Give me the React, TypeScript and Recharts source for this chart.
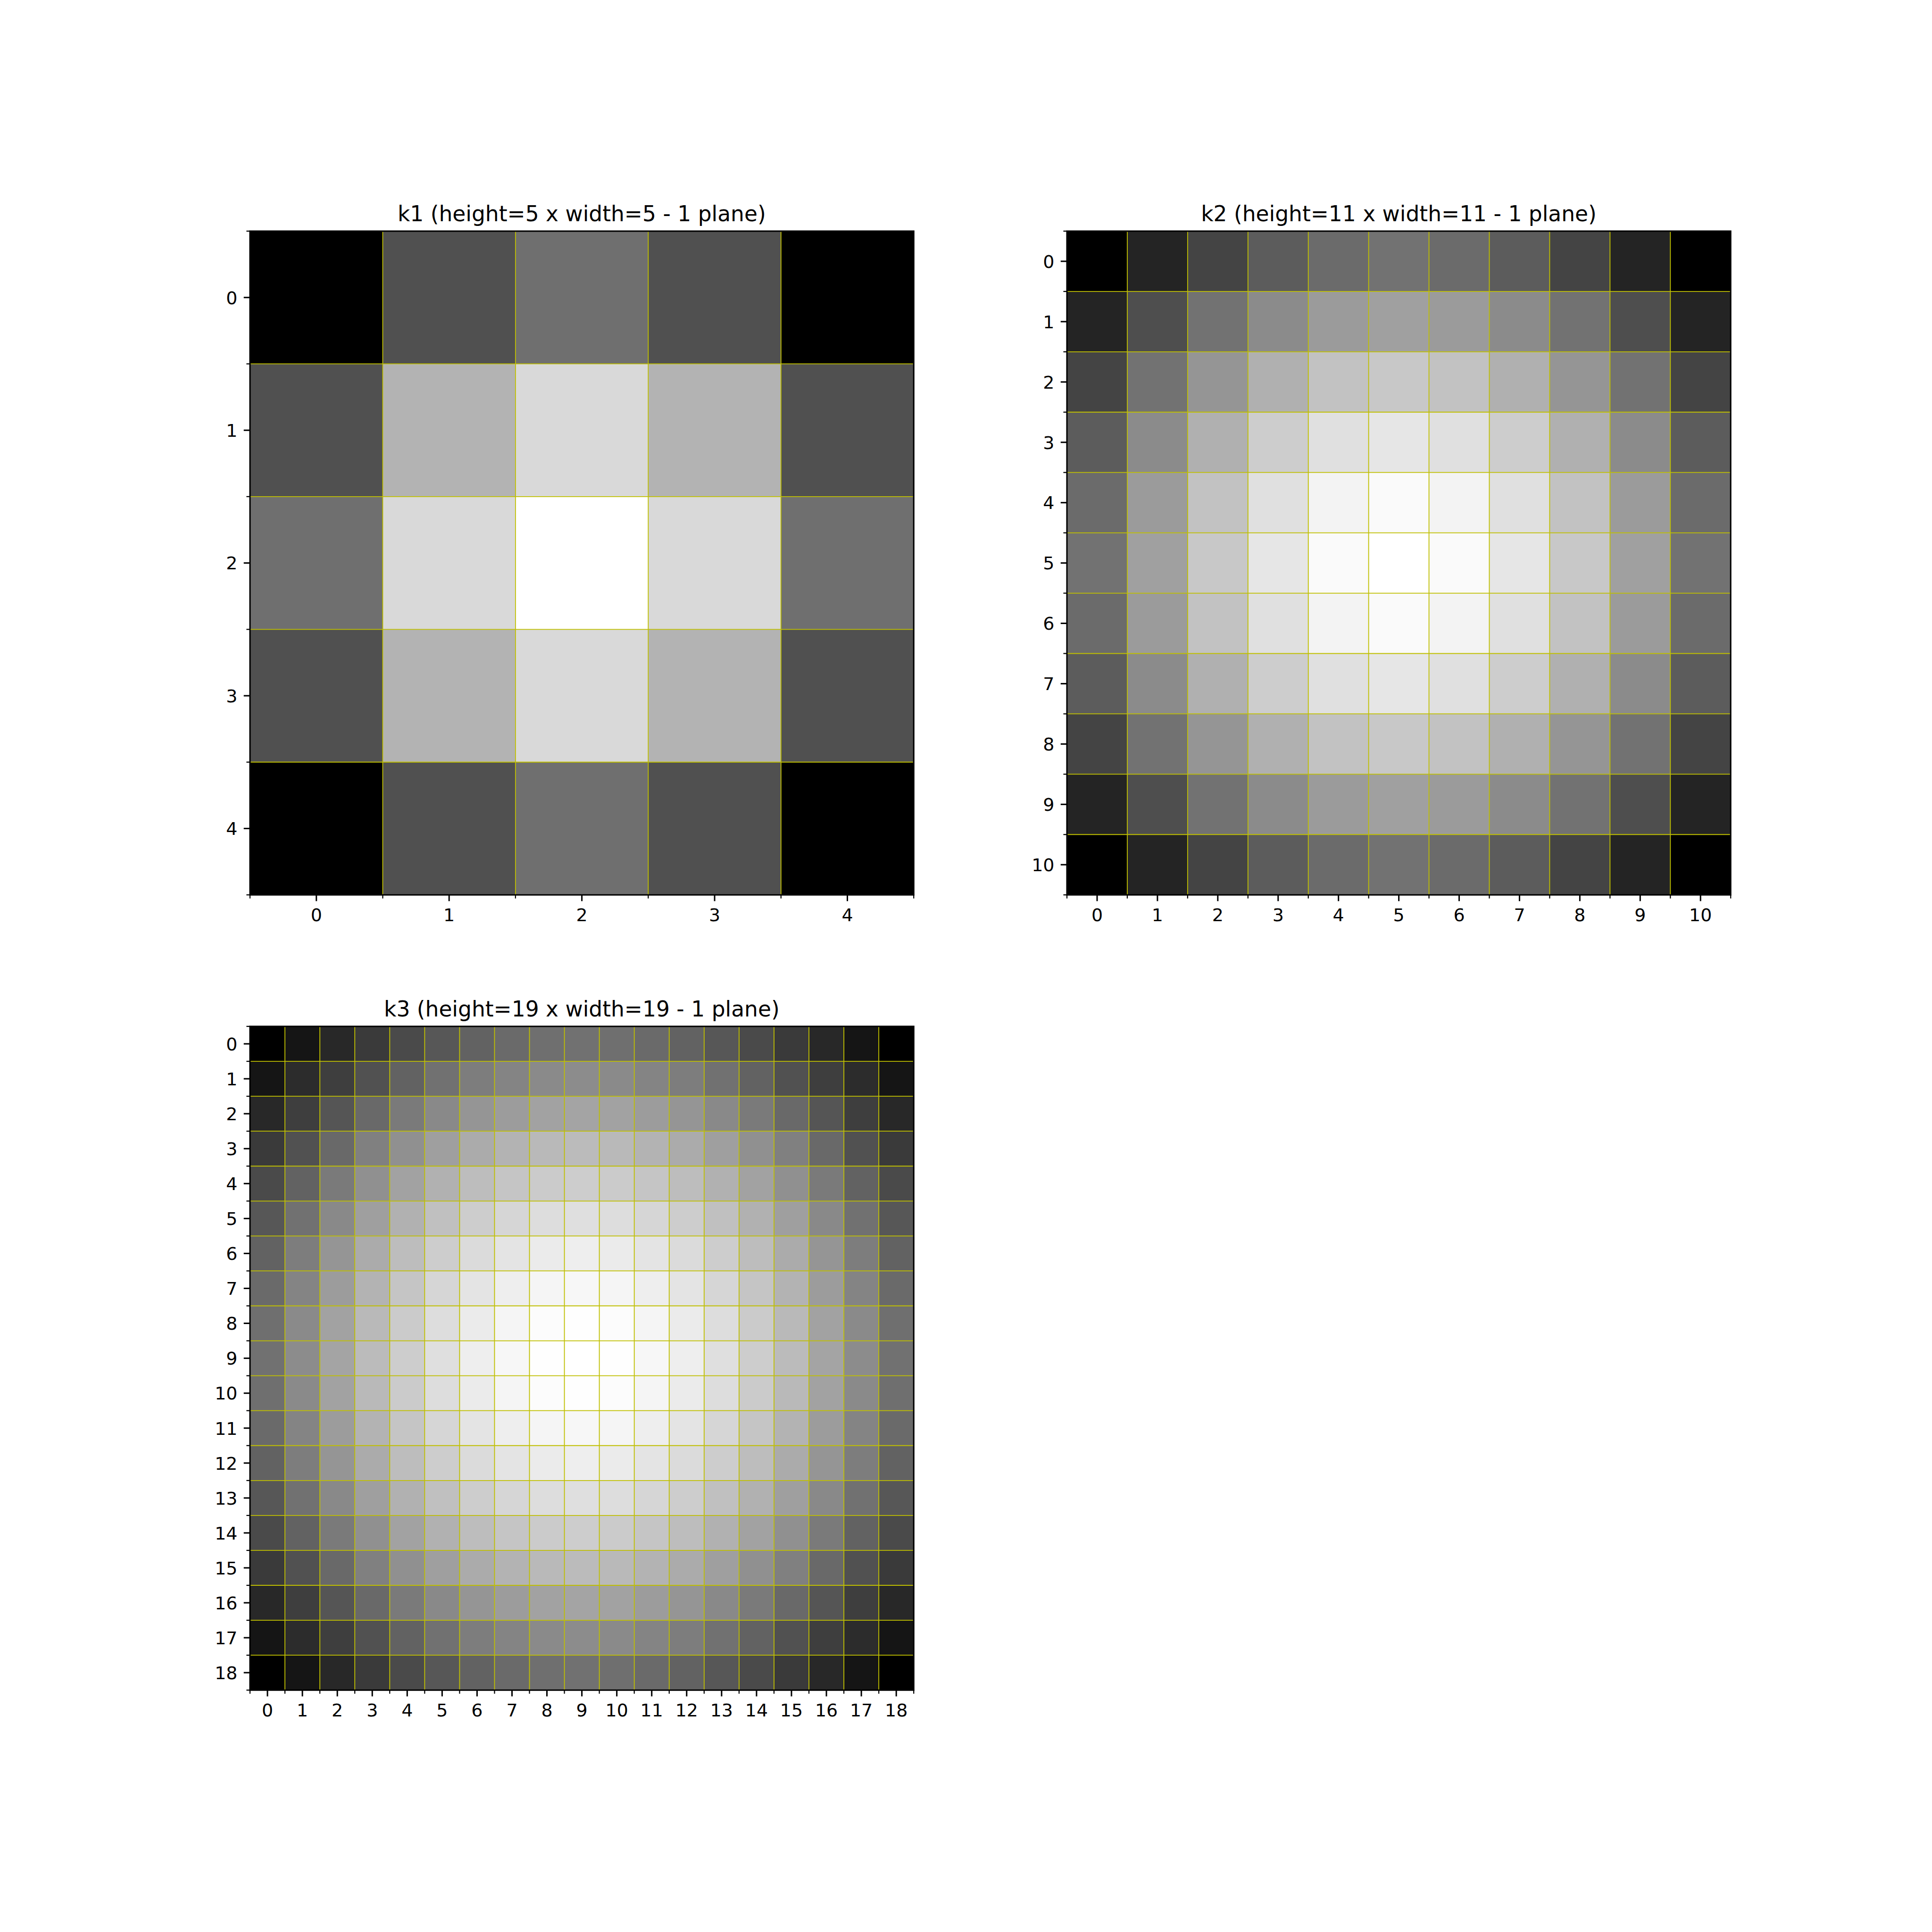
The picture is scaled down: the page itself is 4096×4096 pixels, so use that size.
import React from "react";
import {
  ScatterChart,
  Scatter,
  XAxis,
  YAxis,
  ReferenceLine,
  ReferenceArea,
} from "recharts";

// grey levels (0-255)
const k1Rows = [
  [0, 80, 111, 80, 0],
  [80, 179, 217, 179, 80],
  [111, 217, 255, 217, 111],
  [80, 179, 217, 179, 80],
  [0, 80, 111, 80, 0],
];

const k2Rows = [
  [0, 36, 68, 92, 107, 114, 107, 92, 68, 36, 0],
  [36, 78, 114, 139, 155, 160, 155, 139, 114, 78, 36],
  [68, 114, 149, 176, 194, 200, 194, 176, 149, 114, 68],
  [92, 139, 176, 205, 224, 230, 224, 205, 176, 139, 92],
  [107, 155, 194, 224, 243, 250, 243, 224, 194, 155, 107],
  [114, 160, 200, 230, 250, 255, 250, 230, 200, 160, 114],
  [107, 155, 194, 224, 243, 250, 243, 224, 194, 155, 107],
  [92, 139, 176, 205, 224, 230, 224, 205, 176, 139, 92],
  [68, 114, 149, 176, 194, 200, 194, 176, 149, 114, 68],
  [36, 78, 114, 139, 155, 160, 155, 139, 114, 78, 36],
  [0, 36, 68, 92, 107, 114, 107, 92, 68, 36, 0],
];

const k3Rows = [
  [0, 21, 40, 58, 74, 87, 98, 106, 111, 113, 111, 106, 98, 87, 74, 58, 40, 21, 0],
  [21, 44, 62, 81, 98, 113, 125, 132, 138, 140, 138, 132, 125, 113, 98, 81, 62, 44, 21],
  [40, 62, 85, 105, 122, 137, 149, 156, 162, 164, 162, 156, 149, 137, 122, 105, 85, 62, 40],
  [58, 81, 105, 128, 144, 159, 171, 179, 185, 187, 185, 179, 171, 159, 144, 128, 105, 81, 58],
  [74, 98, 122, 144, 162, 177, 189, 197, 203, 205, 203, 197, 189, 177, 162, 144, 122, 98, 74],
  [87, 113, 137, 159, 177, 192, 205, 214, 221, 223, 221, 214, 205, 192, 177, 159, 137, 113, 87],
  [98, 125, 149, 171, 189, 205, 219, 228, 235, 238, 235, 228, 219, 205, 189, 171, 149, 125, 98],
  [106, 132, 156, 179, 197, 214, 228, 238, 245, 247, 245, 238, 228, 214, 197, 179, 156, 132, 106],
  [111, 138, 162, 185, 203, 221, 235, 245, 252, 254, 252, 245, 235, 221, 203, 185, 162, 138, 111],
  [113, 140, 164, 187, 205, 223, 238, 247, 254, 255, 254, 247, 238, 223, 205, 187, 164, 140, 113],
  [111, 138, 162, 185, 203, 221, 235, 245, 252, 254, 252, 245, 235, 221, 203, 185, 162, 138, 111],
  [106, 132, 156, 179, 197, 214, 228, 238, 245, 247, 245, 238, 228, 214, 197, 179, 156, 132, 106],
  [98, 125, 149, 171, 189, 205, 219, 228, 235, 238, 235, 228, 219, 205, 189, 171, 149, 125, 98],
  [87, 113, 137, 159, 177, 192, 205, 214, 221, 223, 221, 214, 205, 192, 177, 159, 137, 113, 87],
  [74, 98, 122, 144, 162, 177, 189, 197, 203, 205, 203, 197, 189, 177, 162, 144, 122, 98, 74],
  [58, 81, 105, 128, 144, 159, 171, 179, 185, 187, 185, 179, 171, 159, 144, 128, 105, 81, 58],
  [40, 62, 85, 105, 122, 137, 149, 156, 162, 164, 162, 156, 149, 137, 122, 105, 85, 62, 40],
  [21, 44, 62, 81, 98, 113, 125, 132, 138, 140, 138, 132, 125, 113, 98, 81, 62, 44, 21],
  [0, 21, 40, 58, 74, 87, 98, 106, 111, 113, 111, 106, 98, 87, 74, 58, 40, 21, 0],
];

const k1Ticks = [0, 1, 2, 3, 4];
const k2Ticks = [0, 1, 2, 3, 4, 5, 6, 7, 8, 9, 10];
const k3Ticks = [0, 1, 2, 3, 4, 5, 6, 7, 8, 9, 10, 11, 12, 13, 14, 15, 16, 17, 18];

const k1Title = "k1 (height=5 x width=5 - 1 plane)";
const k2Title = "k2 (height=11 x width=11 - 1 plane)";
const k3Title = "k3 (height=19 x width=19 - 1 plane)";

// layout (reference px scaled to the window)
const S = 4096 / 4500;
const BOX = 1546 * S;
const L = 120;
const T = 40;
const R = 20;
const B = 90;
const FONT = "DejaVu Sans";
const TICK_FS = 41.67 * S;
const TITLE_FS = 50 * S;
const MAJOR = 14.58 * S;
const MINOR = 8.33 * S;
const YELLOW = "#bfbf00";

const panels = [
  { title: k1Title, rows: k1Rows, ticks: k1Ticks, left: 582 * S, top: 538 * S },
  { title: k2Title, rows: k2Rows, ticks: k2Ticks, left: 2485 * S, top: 538 * S },
  { title: k3Title, rows: k3Rows, ticks: k3Ticks, left: 582 * S, top: 2391 * S },
];

function AxisTick(props: any) {
  const { x, y, payload, side } = props;
  const v = payload.value;
  const major = Number.isInteger(v);
  const len = major ? MAJOR : MINOR;
  const sw = major ? 0.8 * 4.1667 * S : 0.6 * 4.1667 * S;
  if (side === "x") {
    return (
      <g>
        <line x1={x} x2={x} y1={y} y2={y + len} stroke="#000" strokeWidth={sw} />
        {major && (
          <text x={x} y={y + 61 * S} textAnchor="middle" fontFamily={FONT} fontSize={TICK_FS} fill="#000">
            {v}
          </text>
        )}
      </g>
    );
  }
  return (
    <g>
      <line x1={x} x2={x - len} y1={y} y2={y} stroke="#000" strokeWidth={sw} />
      {major && (
        <text x={x - 29.2 * S} y={y + 0.364 * TICK_FS} textAnchor="end" fontFamily={FONT} fontSize={TICK_FS} fill="#000">
          {v}
        </text>
      )}
    </g>
  );
}

function Kernel({ rows, ticks }: { rows: number[][]; ticks: number[] }) {
  const n = rows.length;
  const cell = BOX / n;
  const cells = rows.flatMap((row, i) => row.map((v, j) => ({ x: j, y: i, v })));
  const bounds = [...ticks.map((t) => t - 0.5), ticks[ticks.length - 1] + 0.5];
  const allTicks = [...bounds, ...ticks].sort((a, b) => a - b);
  const domain: [number, number] = [-0.5, n - 0.5];

  const CellShape = (p: any) => {
    const g = p.payload.v;
    return (
      <rect
        x={p.cx - cell / 2}
        y={p.cy - cell / 2}
        width={cell + 0.5}
        height={cell + 0.5}
        fill={`rgb(${g},${g},${g})`}
      />
    );
  };

  return (
    <ScatterChart width={L + BOX + R} height={T + BOX + B} margin={{ top: T, right: R, bottom: 0, left: 0 }}>
      <XAxis
        type="number"
        dataKey="x"
        domain={domain}
        allowDataOverflow
        ticks={allTicks}
        interval={0}
        tickSize={0}
        tickMargin={0}
        tickLine={false}
        axisLine={false}
        height={B}
        tick={(p: any) => <AxisTick {...p} side="x" />}
      />
      <YAxis
        type="number"
        dataKey="y"
        domain={domain}
        allowDataOverflow
        reversed
        ticks={allTicks}
        interval={0}
        tickSize={0}
        tickMargin={0}
        tickLine={false}
        axisLine={false}
        width={L}
        tick={(p: any) => <AxisTick {...p} side="y" />}
      />
      <Scatter data={cells} shape={CellShape} isAnimationActive={false} />
      {bounds.slice(1, -1).map((b) => (
        <ReferenceLine key={`vx${b}`} x={b} stroke={YELLOW} strokeWidth={2 * S} zIndex={700} />
      ))}
      {bounds.slice(1, -1).map((b) => (
        <ReferenceLine key={`hy${b}`} y={b} stroke={YELLOW} strokeWidth={2 * S} zIndex={700} />
      ))}
      <ReferenceArea
        x1={-0.5}
        x2={n - 0.5}
        y1={-0.5}
        y2={n - 0.5}
        fill="none"
        fillOpacity={0}
        stroke="#000"
        strokeWidth={0.8 * 4.1667 * S}
        zIndex={800}
      />
    </ScatterChart>
  );
}

export default function App() {
  return (
    <div style={{ position: "absolute", left: 0, top: 0, width: 4096, height: 4096, background: "#fff" }}>
      {panels.map((p) => (
        <div key={p.title} style={{ position: "absolute", left: p.left - L, top: p.top - T }}>
          <Kernel rows={p.rows} ticks={p.ticks} />
        </div>
      ))}
      <svg width={4096} height={4096} style={{ position: "absolute", left: 0, top: 0, pointerEvents: "none" }}>
        {panels.map((p) => (
          <text
            key={p.title}
            x={p.left + BOX / 2}
            y={p.top - 23 * S}
            textAnchor="middle"
            fontFamily={FONT}
            fontSize={TITLE_FS}
            fill="#000"
          >
            {p.title}
          </text>
        ))}
      </svg>
    </div>
  );
}
